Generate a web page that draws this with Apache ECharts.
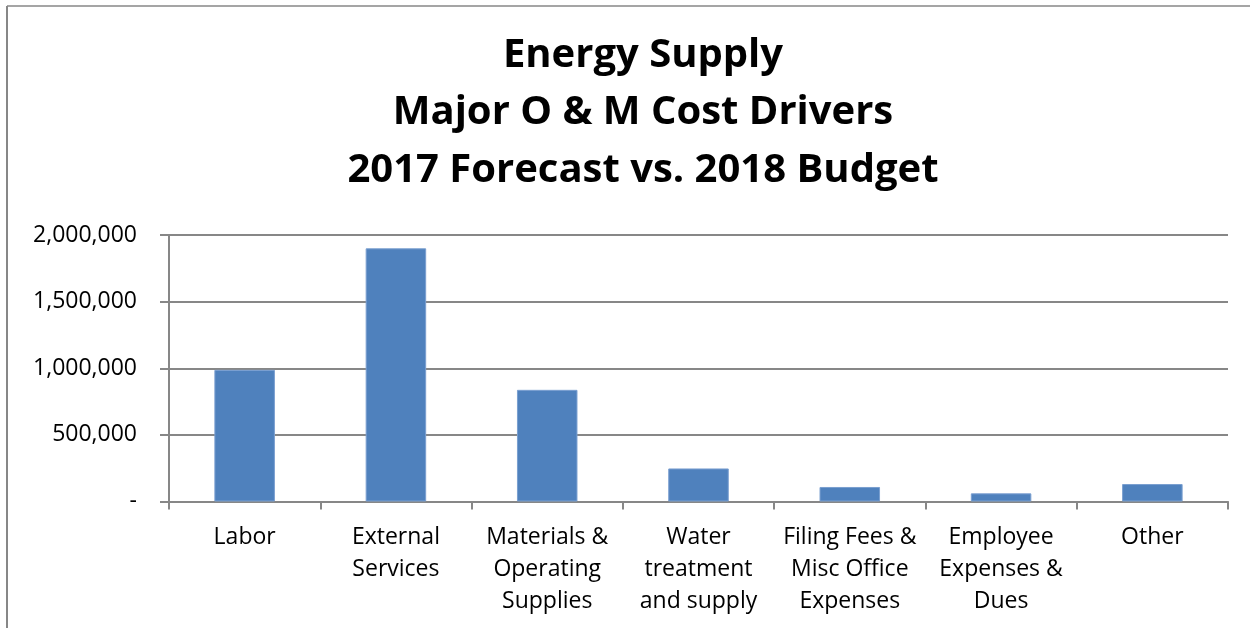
<!DOCTYPE html>
<html>
<head>
<meta charset="utf-8">
<script src="https://cdn.jsdelivr.net/npm/echarts@6/dist/echarts.min.js"></script>
<style>
html,body{margin:0;padding:0;background:#fff;}
#chart{width:1250px;height:628px;}
</style>
</head>
<body>
<div id="chart"></div>
<script>
var titleLines = ["Energy Supply", "Major O & M Cost Drivers", "2017 Forecast vs. 2018 Budget"];
var categories = ["Labor", "External\nServices", "Materials &\nOperating\nSupplies", "Water\ntreatment\nand supply", "Filing Fees &\nMisc Office\nExpenses", "Employee\nExpenses &\nDues", "Other"];
var values = [988000, 1900000, 838000, 248000, 109000, 61000, 131000];
var yTicks = [0, 500000, 1000000, 1500000, 2000000];

var chart = echarts.init(document.getElementById('chart'), null, {renderer: 'canvas'});
var fontFam = '"Open Sans", "Liberation Sans", sans-serif';
var gray = '#878787';

var graphics = [
  {type: 'line', shape: {x1: 7, y1: 6, x2: 1250, y2: 6}, style: {stroke: gray, lineWidth: 1.5}},
  {type: 'line', shape: {x1: 7, y1: 6, x2: 7, y2: 628}, style: {stroke: gray, lineWidth: 2}}
];
var titleY = [56, 113, 171];
titleLines.forEach(function (t, i) {
  graphics.push({
    type: 'text', x: 643, y: titleY[i],
    style: {text: t, font: 'bold 40px ' + fontFam, fill: '#000', textAlign: 'center', textVerticalAlign: 'middle'}
  });
});

chart.setOption({
  animation: false,
  graphic: graphics,
  grid: {left: 169, right: 22, top: 235, bottom: 126.5, containLabel: false},
  xAxis: {
    type: 'category',
    data: categories,
    boundaryGap: true,
    axisLine: {show: true, lineStyle: {color: gray, width: 2}},
    axisTick: {show: true, alignWithLabel: false, length: 8, lineStyle: {color: gray, width: 2}},
    axisLabel: {interval: 0, margin: 20, color: '#000', fontFamily: fontFam, fontSize: 23, lineHeight: 32, align: 'center', verticalAlign: 'top'},
    splitLine: {show: false}
  },
  yAxis: {
    type: 'value',
    min: 0, max: 2000000, interval: 500000,
    axisLine: {show: true, lineStyle: {color: gray, width: 2}},
    axisTick: {show: true, inside: false, length: 9, lineStyle: {color: gray, width: 2}},
    axisLabel: {
      margin: 32, color: '#000', fontFamily: fontFam, fontSize: 23,
      formatter: function (v) { return v === 0 ? '-' : v.toLocaleString('en-US'); }
    },
    splitLine: {show: true, lineStyle: {color: gray, width: 2}}
  },
  series: [{
    type: 'bar',
    data: values,
    barCategoryGap: '60%',
    itemStyle: {color: '#4F81BD', borderColor: '#7a9fd0', borderWidth: 1}
  }]
});
</script>
</body>
</html>
